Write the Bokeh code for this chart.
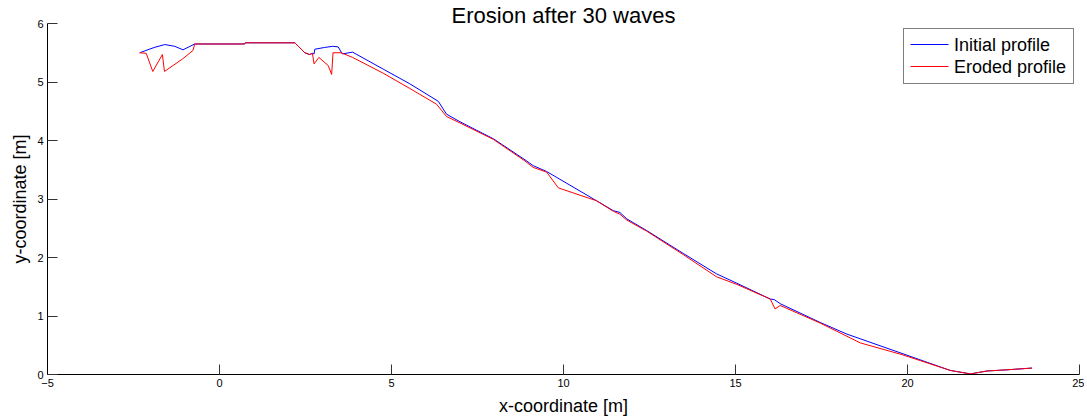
from bokeh.plotting import figure
from bokeh.models import Legend, LegendItem, FixedTicker, Range1d, Label
from bokeh.embed import file_html
from bokeh.resources import INLINE

# Initial profile
init_x = [-2.32, -1.90, -1.59, -1.30, -1.06, -0.72, 0.73, 0.75, 2.19, 2.48, 2.62, 2.70, 2.75, 2.77,
          3.05, 3.29, 3.45, 3.57, 3.87, 4.76, 5.53, 6.36, 6.60, 6.99, 7.96, 8.88, 9.12, 9.51,
          10.96, 11.45, 11.64, 11.84, 12.42, 13.48, 14.45, 15.04, 16.01, 16.13, 16.30, 17.46,
          18.24, 19.84, 21.24, 21.83, 22.31, 22.89, 23.62]
init_y = [5.50, 5.59, 5.64, 5.61, 5.55, 5.65, 5.65, 5.67, 5.67, 5.50, 5.47, 5.49, 5.48, 5.56,
          5.59, 5.61, 5.60, 5.48, 5.51, 5.22, 4.97, 4.67, 4.45, 4.32, 4.03, 3.67, 3.57, 3.47,
          2.97, 2.80, 2.77, 2.66, 2.46, 2.07, 1.72, 1.56, 1.29, 1.28, 1.21, 0.89,
          0.69, 0.36, 0.07, 0.01, 0.06, 0.08, 0.11]

# Eroded profile
ero_x = [-2.32, -2.13, -1.94, -1.66, -1.60, -1.11, -1.06, -0.77, -0.72, 0.73, 0.75, 2.19, 2.48,
         2.62, 2.70, 2.75, 2.89, 3.16, 3.26, 3.30, 3.54, 3.87, 4.76, 5.53, 6.31, 6.60, 6.99,
         7.96, 8.88, 9.12, 9.51, 9.85, 10.96, 11.45, 11.64, 11.84, 12.42, 13.48, 14.45, 15.04,
         16.01, 16.15, 16.30, 17.46, 18.63, 19.84, 21.24, 21.83, 22.31, 22.89, 23.62]
ero_y = [5.50, 5.49, 5.18, 5.47, 5.18, 5.38, 5.40, 5.54, 5.65, 5.65, 5.67, 5.67, 5.50,
         5.47, 5.49, 5.31, 5.42, 5.28, 5.13, 5.50, 5.50, 5.42, 5.15, 4.89, 4.62, 4.41, 4.30,
         4.02, 3.65, 3.54, 3.46, 3.19, 2.97, 2.79, 2.74, 2.64, 2.45, 2.05, 1.67, 1.54,
         1.29, 1.12, 1.18, 0.88, 0.54, 0.34, 0.07, 0.01, 0.06, 0.08, 0.11]

series_labels = ["Initial profile", "Eroded profile"]
series_colors = ["#0000ff", "#ff0000"]

x_ticks = [-5, 0, 5, 10, 15, 20, 25]
y_ticks = [0, 1, 2, 3, 4, 5, 6]

FONT = "Liberation Sans"
X0, X1, Y0, Y1 = -5, 25, 0, 6
FW, FH = 1032, 351

p = figure(output_backend="svg", toolbar_location=None,
           x_range=Range1d(X0, X1), y_range=Range1d(Y0, Y1),
           frame_width=FW, frame_height=FH,
           min_border_left=47, min_border_right=5, min_border_top=23, min_border_bottom=38,
           title="Erosion after 30 waves")
p.title.align = "center"
p.title.text_font = FONT
p.title.text_font_size = "22px"
p.title.text_font_style = "normal"
p.title.text_color = "black"
p.title.standoff = -9
p.title.offset = 0

p.outline_line_color = None
p.xgrid.visible = False
p.ygrid.visible = False

for ax in (p.xaxis[0], p.yaxis[0]):
    ax.major_tick_in = 10
    ax.major_tick_out = 0
    ax.minor_tick_line_color = None
    ax.axis_line_color = "black"
    ax.major_tick_line_color = "#333333"
    ax.major_label_text_font = FONT
    ax.major_label_text_font_size = "11px"
    ax.major_label_text_color = "black"
    ax.axis_label_text_font = FONT
    ax.axis_label_text_font_size = "18px"
    ax.axis_label_text_font_style = "normal"
    ax.axis_label_text_color = "black"

p.xaxis[0].ticker = FixedTicker(ticks=x_ticks)
p.yaxis[0].ticker = FixedTicker(ticks=y_ticks)
p.xaxis[0].axis_label = "x-coordinate [m]"
p.yaxis[0].axis_label = "y-coordinate [m]"
p.xaxis[0].major_label_standoff = 4
p.yaxis[0].major_label_standoff = 4
p.xaxis[0].axis_label_standoff = 6
p.yaxis[0].axis_label_standoff = 4

p.line(init_x, init_y, line_color=series_colors[0], line_width=1)
p.line(ero_x, ero_y, line_color=series_colors[1], line_width=1)

# legend geometry (screen px inside the frame)
L_MARGIN, L_PAD, G_W, L_STAND, LBL_W, ROW_H = 5, 5, 38, 7, 114, 22
box_w = 2 * L_PAD + G_W + L_STAND + LBL_W
box_left = FW - L_MARGIN - box_w

def sx_to_x(sx):
    return X0 + sx * (X1 - X0) / FW

def sy_to_y(sy):
    return Y1 - sy * (Y1 - Y0) / FH

# legend sample lines, drawn as ordinary glyphs under a transparent legend box
items = []
for i, (lab, col) in enumerate(zip(series_labels, series_colors)):
    gx0 = sx_to_x(box_left + L_PAD)
    gx1 = sx_to_x(box_left + L_PAD + G_W)
    gy = sy_to_y(L_MARGIN + L_PAD + ROW_H * i + ROW_H / 2)
    p.line([gx0, gx1], [gy, gy], line_color=col, line_width=1)
    empty = p.line([], [], line_color=col, line_width=1)
    items.append(LegendItem(label=lab, renderers=[empty]))

legend = Legend(items=items, location="top_right")
legend.label_text_font = FONT
legend.label_text_font_size = "18px"
legend.label_text_color = "black"
legend.border_line_color = "black"
legend.border_line_width = 1
legend.background_fill_alpha = 0
legend.glyph_width = G_W
legend.glyph_height = ROW_H
legend.label_height = ROW_H
legend.label_width = LBL_W
legend.spacing = 0
legend.padding = L_PAD
legend.margin = L_MARGIN
legend.label_standoff = L_STAND
p.add_layout(legend)

p.add_layout(Label(x=10, y=3, text=" ", text_font_size="1px"))

open("out.html", "w").write(file_html(p, INLINE))
